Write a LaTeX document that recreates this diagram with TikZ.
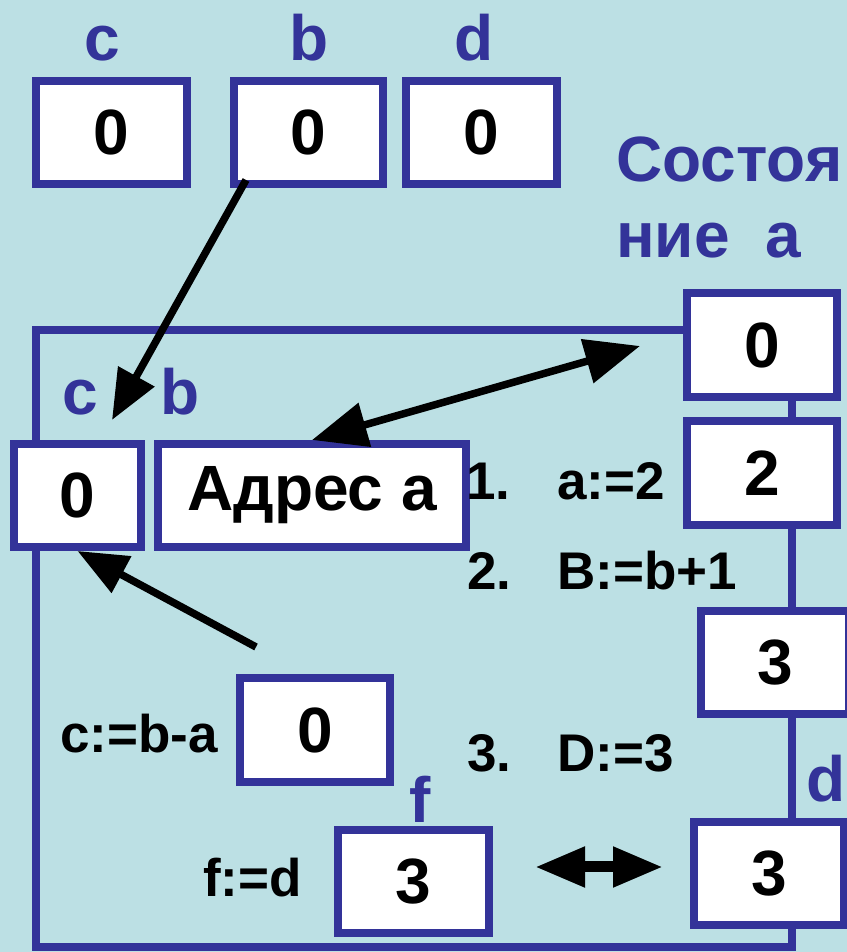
\documentclass[tikz,border=0pt]{standalone}
\usepackage{fontspec}
\setmainfont{Liberation Sans}
\usetikzlibrary{arrows.meta}
\definecolor{bgblue}{RGB}{188,224,228}
\definecolor{boxblue}{RGB}{51,51,153}
\newcommand{\cellfnt}{\fontsize{64bp}{64bp}\selectfont\bfseries}
\newcommand{\stmtfnt}{\fontsize{53bp}{53bp}\selectfont\bfseries}

\begin{document}
\begin{tikzpicture}[>={Triangle[length=50bp,width=40bp]}]
      \tikzstyle{every node}=[font=\cellfnt]
      \tikzstyle{cell}=[draw=boxblue,line width=8bp,fill=white,inner sep=0pt,minimum height=103bp]
      \tikzstyle{tag}=[text=boxblue,anchor=base,inner sep=0pt]
      \tikzstyle{stmt}=[font=\stmtfnt,anchor=base west,inner sep=0pt]
      \tikzstyle{wire}=[draw=boxblue,line width=8bp]
      \tikzstyle{ptr}=[draw=black,line width=7.5bp]

\fill[bgblue] (0bp,0bp) rectangle (847bp,952bp);
\clip (0bp,0bp) rectangle (847bp,952bp);
%%
\node (top_c) at (111.5bp,819.5bp) [cell,minimum width=151bp] {0};
  \node (top_b) at (308.5bp,819.5bp) [cell,minimum width=149bp] {0};
  \node (top_d) at (481.5bp,819.5bp) [cell,minimum width=151bp] {0};
  \node (a0) at (762bp,607bp) [cell,minimum width=150bp,minimum height=104bp] {0};
  \node (a2) at (762bp,479bp) [cell,minimum width=150bp,minimum height=104bp] {2};
  \node (a3) at (775bp,289.5bp) [cell,minimum width=148bp] {3};
  \node (ad) at (769bp,78.5bp) [cell,minimum width=150bp] {3};
  \node (in_c) at (77.5bp,456.5bp) [cell,minimum width=127bp] {0};
  \node (addr) at (312bp,456.5bp) [cell,minimum width=308bp] {Адрес а};
  \node (ca) at (315bp,222bp) [cell,minimum width=150bp,minimum height=104bp] {0};
  \node (fbox) at (413.5bp,70.5bp) [cell,minimum width=151bp] {3};
%%
\node (lc_top) at (102bp,891bp) [tag] {c};
  \node (lb_top) at (309bp,891bp) [tag] {b};
  \node (ld_top) at (474bp,891bp) [tag] {d};
  \node (state1) at (616bp,770bp) [tag,anchor=base west] {Состоя};
  \node (state2) at (616bp,694bp) [tag,anchor=base west] {ние\ \ а};
  \node (lc_in) at (80bp,537bp) [tag] {c};
  \node (lb_in) at (180bp,537bp) [tag] {b};
  \node (lf) at (420bp,129bp) [tag] {f};
  \node (ld) at (826bp,150bp) [tag] {d};
%%
\node (s1n) at (466bp,452bp) [stmt] {1.};
  \node (s1) at (557bp,452bp) [stmt] {a:=2};
  \node (s2n) at (467bp,362bp) [stmt] {2.};
  \node (s2) at (557bp,362bp) [stmt] {B:=b+1};
  \node (s3n) at (467bp,180bp) [stmt] {3.};
  \node (s3) at (557bp,180bp) [stmt] {D:=3};
  \node (sc) at (60bp,199bp) [stmt] {c:=b-a};
  \node (sf) at (203bp,55bp) [stmt] {f:=d};
%%
\coordinate (corner_bl) at (36bp,5bp);
  \coordinate (corner_br) at (792bp,5bp);
  \draw [wire] (683bp,622bp) -- (36bp,622bp) -- (in_c.north -| corner_bl);
  \draw [wire] (in_c.south -| corner_bl) -- (corner_bl) -- (corner_br) -- (ad.south -| corner_br);
  \draw [wire] (a0.south -| corner_br) -- (a2.north -| corner_br);
  \draw [wire] (a2.south -| corner_br) -- (a3.north -| corner_br);
  \draw [wire] (a3.south -| corner_br) -- (ad.north -| corner_br);
%%
\coordinate (b_out) at (246bp,772bp);
  \coordinate (c_in) at (112bp,532bp);
  \coordinate (a_ptr) at (640bp,606bp);
  \coordinate (ca_out) at (256bp,305bp);
  \coordinate (fd_l) at (535bp,85bp);
  \coordinate (fd_r) at (663bp,85bp);
  \draw [ptr,->] (b_out) -- (c_in);
  \draw [ptr,<->,>={Triangle[length=55bp,width=44bp]}] (addr.north) -- (a_ptr);
  \draw [ptr,->] (ca_out) -- (in_c.south);
  \draw [line width=11bp,<->,>={Triangle[length=50bp,width=38bp]}] (fd_l) -- (fd_r);
%
\end{tikzpicture}
\end{document}
